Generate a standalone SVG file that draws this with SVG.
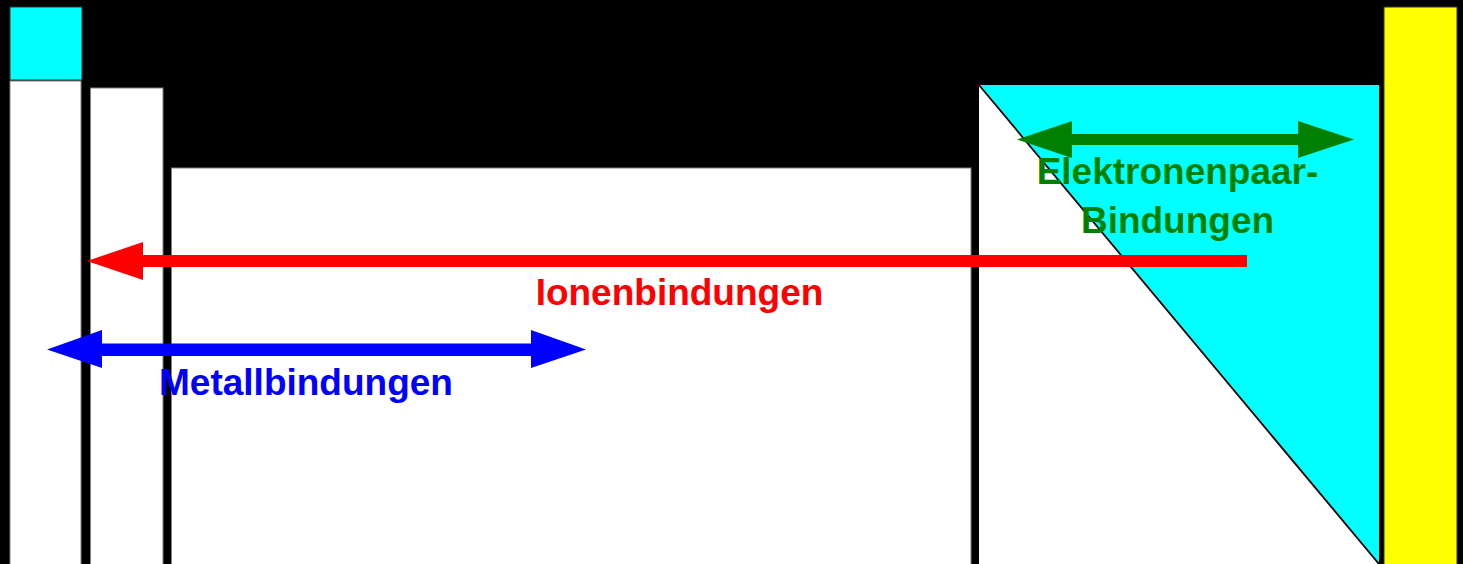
<svg xmlns="http://www.w3.org/2000/svg" width="1463" height="564" viewBox="0 0 1463 564">
<style>
.wh{fill:#ffffff;stroke:#808080;stroke-width:1}
.lbl{font-family:"Liberation Sans",Arial,sans-serif;font-weight:bold;font-size:37px;text-anchor:middle}
.red{fill:#ff0000}.blue{fill:#0000ff}.green{fill:#008000}
</style>
<rect x="0" y="0" width="1463" height="564" fill="#000000"/>
<g id="cyan-square"><rect x="10" y="7" width="72" height="73" fill="#00ffff" stroke="#333" stroke-width="1"/></g>
<g id="col1"><rect class="wh" x="10" y="81" width="71" height="490"/></g>
<g id="col2"><rect class="wh" x="90.5" y="88" width="72.5" height="490"/></g>
<g id="main-block"><rect class="wh" x="171.5" y="168" width="799.5" height="410"/></g>
<g id="right-block">
<rect x="979" y="85" width="400" height="479" fill="#ffffff"/>
<polygon points="979,85 1379,85 1379,564" fill="#00ffff"/>
<line x1="979" y1="85" x2="1379" y2="564" stroke="#000000" stroke-width="1.8"/>
</g>
<g id="yellow-col"><rect x="1384" y="7" width="73" height="570" fill="#ffff00" stroke="#333" stroke-width="1"/></g>
<g id="connectors">
<path class="red" d="M87,261 L143,242 L143,255 L1247,255 L1247,267 L143,267 L143,280 Z"/>
<path class="blue" d="M47,349.5 L102,330 L102,343.5 L531,343.5 L531,356 L102,356 L102,368 Z M586,349.5 L531,330 L531,368 Z"/>
<path class="green" d="M1017,139.5 L1072,121 L1072,134 L1298,134 L1298,145 L1072,145 L1072,158 Z M1354,139.5 L1298,121 L1298,158 Z"/>
<text class="lbl green" x="1177.5" y="184">Elektronenpaar-</text>
<text class="lbl green" x="1177.5" y="233">Bindungen</text>
<text class="lbl red" x="679.5" y="305">Ionenbindungen</text>
<text class="lbl blue" x="306" y="395">Metallbindungen</text>
</g>
</svg>
